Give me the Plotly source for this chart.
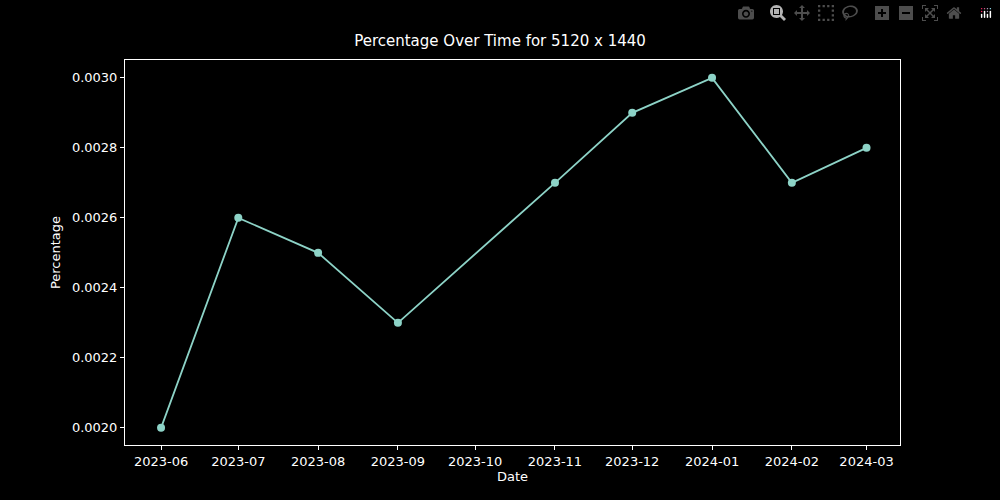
import plotly.graph_objects as go

dates = ['2023-06-01', '2023-07-01', '2023-08-01', '2023-09-01', '2023-11-01',
         '2023-12-01', '2024-01-01', '2024-02-01', '2024-03-01']
percentage = [0.0020, 0.0026, 0.0025, 0.0023, 0.0027, 0.0029, 0.0030, 0.0027, 0.0028]
tick_dates = ['2023-06-01', '2023-07-01', '2023-08-01', '2023-09-01', '2023-10-01',
              '2023-11-01', '2023-12-01', '2024-01-01', '2024-02-01', '2024-03-01']
tick_labels = [d[:7] for d in tick_dates]

fig = go.Figure(go.Scatter(
    x=dates, y=percentage, mode='lines+markers',
    line=dict(color='#8dd3c7', width=1.8),
    marker=dict(color='#8dd3c7', size=8),
))

axis_style = dict(
    showgrid=False, zeroline=False, showline=True, mirror=True,
    linecolor='white', linewidth=1, ticks='outside', tickcolor='white',
    ticklen=4, color='white',
)

fig.update_layout(
    width=1000, height=500,
    paper_bgcolor='black', plot_bgcolor='black',
    font=dict(family='DejaVu Sans', size=13, color='white'),
    title=dict(text='Percentage Over Time for 5120 x 1440', x=0.5, y=0.93,
               xanchor='center', font=dict(size=15)),
    margin=dict(l=125, r=100, t=60, b=55),
    showlegend=False,
)
fig.update_xaxes(axis_style, type='date', range=['2023-05-18', '2024-03-14'],
                 tickvals=tick_dates, ticktext=tick_labels,
                 title=dict(text='Date', standoff=4, font=dict(size=13)))
fig.update_yaxes(axis_style, range=[0.001951, 0.003051],
                 tickvals=[0.0020, 0.0022, 0.0024, 0.0026, 0.0028, 0.0030],
                 tickformat='.4f', title=dict(text='Percentage', standoff=8, font=dict(size=13)))

fig.write_html('out.html',
               post_script="document.body.style.margin='0';document.body.style.background='black';")
